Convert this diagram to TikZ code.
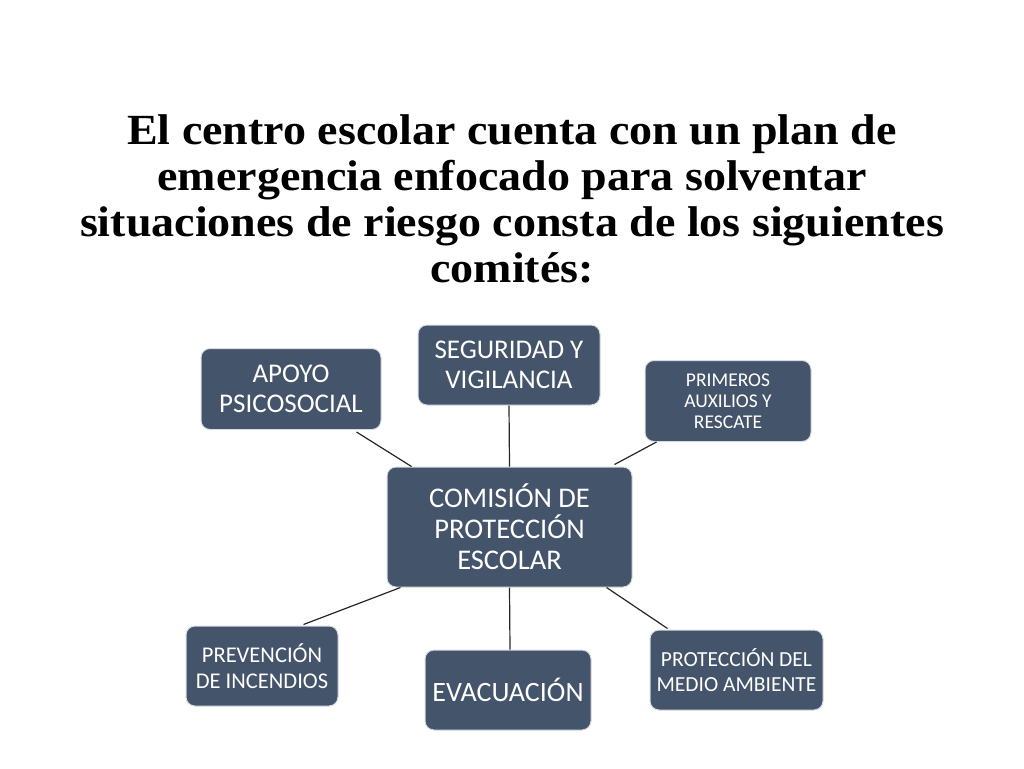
\documentclass[tikz,border=0pt]{standalone}
\usepackage{fontspec}
\setmainfont{Carlito}
\newfontfamily\titlefont{Liberation Serif}
\definecolor{boxfill}{HTML}{44546A}
\definecolor{boxedge}{HTML}{D6DCE5}
\begin{document}
\begin{tikzpicture}[x=1pt,y=-1pt,
  cbox/.style={draw=boxedge, line width=1pt, fill=boxfill, rounded corners=9pt, text=white, align=center, inner sep=0pt},
  link/.style={draw=black!85, line width=1.2pt}]
\useasboundingbox (0,0) rectangle (1024,768);
\node[font=\titlefont\bfseries\fontsize{43}{46}\selectfont, align=center, anchor=north, xscale=1.07] (title) at (512,111)
  {El centro escolar cuenta con un plan de\\ emergencia enfocado para solventar\\ situaciones de riesgo consta de los siguientes\\ comités:};
% boxes
\node[cbox, minimum width=182pt, minimum height=80pt, font=\fontsize{27}{30}\selectfont] (seg) at (509,365) {SEGURIDAD Y\\ VIGILANCIA};
\node[cbox, minimum width=180pt, minimum height=81pt, font=\fontsize{27}{30}\selectfont] (apo) at (291,389) {APOYO\\ PSICOSOCIAL};
\node[cbox, minimum width=166pt, minimum height=81pt, font=\fontsize{19.5}{21}\selectfont] (pri) at (728,401) {PRIMEROS\\ AUXILIOS Y\\ RESCATE};
\node[cbox, minimum width=245pt, minimum height=120pt, font=\fontsize{28.5}{31}\selectfont] (com) at (509.5,527) {COMISIÓN DE\\ PROTECCIÓN\\ ESCOLAR};
\node[cbox, minimum width=152pt, minimum height=80pt, font=\fontsize{22.5}{26}\selectfont] (pre) at (262,666) {PREVENCIÓN\\ DE INCENDIOS};
\node[cbox, minimum width=166pt, minimum height=80pt, font=\fontsize{28}{31}\selectfont] (eva) at (508,690) {EVACUACIÓN};
\node[cbox, minimum width=173pt, minimum height=80pt, font=\fontsize{21.5}{25}\selectfont] (prot) at (736.5,670) {PROTECCIÓN DEL\\ MEDIO AMBIENTE};
% connectors
\draw[link] (seg.south) -- (com.north);
\draw[link] (com.north west) ++(25,0) coordinate (c1);
\draw[link] (apo.south east) ++(-25,2) -- (c1);
\draw[link] (com.north east) ++(-18,-2) coordinate (c2);
\draw[link] (pri.south west) ++(12,0) -- (c2);
\draw[link] (com.south west) ++(14,0) coordinate (c3);
\draw[link] (pre.north east) ++(-35,-1) -- (c3);
\draw[link] (eva.north) ++(2,0) -- (com.south);
\draw[link] (com.south east) ++(-26,0) coordinate (c4);
\draw[link] (prot.north west) ++(18,-1) -- (c4);
\end{tikzpicture}
\end{document}
